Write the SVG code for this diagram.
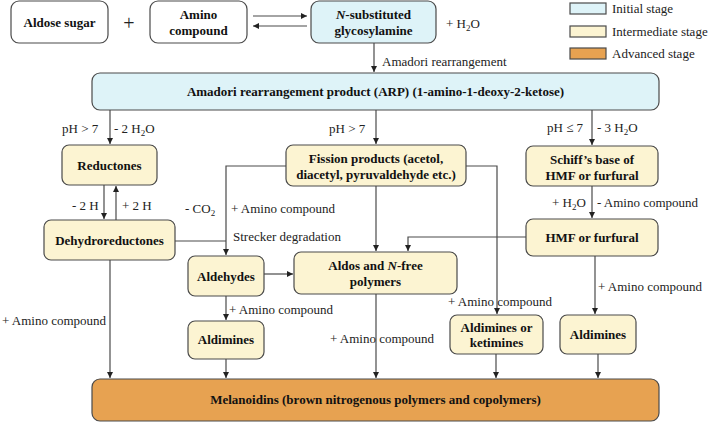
<svg xmlns="http://www.w3.org/2000/svg" width="709" height="422" viewBox="0 0 709 422">
<style>
.box{stroke:#4a4a4a;stroke-width:1.2}
.w{fill:#ffffff}
.b{fill:#def3f8}
.y{fill:#fcf4d2}
.o{fill:#e7a251}
.t{font-family:"Liberation Serif","Times New Roman",serif;font-size:13px;font-weight:bold;fill:#111;text-anchor:middle}
.l{font-family:"Liberation Serif","Times New Roman",serif;font-size:13px;fill:#222}
.c{stroke:#4a4a4a;stroke-width:1.2;fill:none}
</style>
<defs>
<marker id="ah" markerWidth="8" markerHeight="8" refX="6" refY="3" orient="auto" markerUnits="userSpaceOnUse">
<path d="M0,0 L6,3 L0,6 Z" fill="#222"/>
</marker>
</defs>

<g id="legend">
<rect x="570" y="3" width="36" height="11" class="box b"/>
<text x="612" y="13" class="l">Initial stage</text>
<rect x="570" y="26" width="36" height="11" class="box y"/>
<text x="612" y="36" class="l">Intermediate stage</text>
<rect x="570" y="48" width="36" height="11" class="box o"/>
<text x="612" y="58" class="l">Advanced stage</text>
</g>

<g id="aldose">
<rect x="11" y="1" width="97" height="42" rx="8" class="box w"/>
<text x="59.5" y="27" class="t">Aldose sugar</text>
</g>
<text x="129" y="30" class="l" style="font-size:20px" text-anchor="middle">+</text>
<g id="amino">
<rect x="150" y="1" width="97" height="42" rx="8" class="box w"/>
<text x="198.5" y="19" class="t">Amino</text>
<text x="198.5" y="35" class="t">compound</text>
</g>
<g id="glycosylamine">
<rect x="311" y="1" width="125" height="42" rx="8" class="box b"/>
<text x="373.5" y="19" class="t"><tspan font-style="italic">N</tspan>-substituted</text>
<text x="373.5" y="35" class="t">glycosylamine</text>
</g>
<g id="arp">
<rect x="92" y="73" width="567" height="37" rx="8" class="box b"/>
<text x="375.5" y="96" class="t">Amadori rearrangement product (ARP) (1-amino-1-deoxy-2-ketose)</text>
</g>
<g id="reductones">
<rect x="62" y="145" width="95" height="40" rx="7" class="box y"/>
<text x="109.5" y="170" class="t">Reductones</text>
</g>
<g id="dehydroreductones">
<rect x="44" y="220" width="131" height="40" rx="7" class="box y"/>
<text x="109.5" y="245" class="t">Dehydroreductones</text>
</g>
<g id="fission">
<rect x="286" y="145" width="180" height="41" rx="7" class="box y"/>
<text x="376" y="163" class="t">Fission products (acetol,</text>
<text x="376" y="179" class="t">diacetyl, pyruvaldehyde etc.)</text>
</g>
<g id="schiff">
<rect x="526" y="146" width="132" height="40" rx="7" class="box y"/>
<text x="592" y="164" class="t">Schiff’s base of</text>
<text x="592" y="180" class="t">HMF or furfural</text>
</g>
<g id="hmf">
<rect x="526" y="219" width="132" height="37" rx="7" class="box y"/>
<text x="592" y="242" class="t">HMF or furfural</text>
</g>
<g id="aldehydes">
<rect x="188" y="256" width="76" height="40" rx="7" class="box y"/>
<text x="226" y="281" class="t">Aldehydes</text>
</g>
<g id="aldos">
<rect x="294" y="252" width="163" height="42" rx="7" class="box y"/>
<text x="375.5" y="270" class="t">Aldos and <tspan font-style="italic">N</tspan>-free</text>
<text x="375.5" y="286" class="t">polymers</text>
</g>
<g id="aldimines1">
<rect x="188" y="321" width="76" height="38" rx="7" class="box y"/>
<text x="226" y="344" class="t">Aldimines</text>
</g>
<g id="ketimines">
<rect x="450" y="315" width="93" height="39" rx="7" class="box y"/>
<text x="496.5" y="332" class="t">Aldimines or</text>
<text x="496.5" y="347" class="t">ketimines</text>
</g>
<g id="aldimines2">
<rect x="560" y="315" width="76" height="39" rx="7" class="box y"/>
<text x="598" y="339" class="t">Aldimines</text>
</g>
<g id="melanoidins">
<rect x="92" y="379" width="567" height="42" rx="8" class="box o"/>
<text x="375.5" y="404" class="t">Melanoidins (brown nitrogenous polymers and copolymers)</text>
</g>

<g id="connectors">
<line x1="253" y1="16" x2="307" y2="16" class="c" marker-end="url(#ah)"/>
<line x1="307" y1="26" x2="253" y2="26" class="c" marker-end="url(#ah)"/>
<line x1="374" y1="43" x2="374" y2="72" class="c" marker-end="url(#ah)"/>
<line x1="110" y1="110" x2="110" y2="144" class="c" marker-end="url(#ah)"/>
<line x1="376" y1="110" x2="376" y2="144" class="c" marker-end="url(#ah)"/>
<line x1="592" y1="110" x2="592" y2="145" class="c" marker-end="url(#ah)"/>
<line x1="104" y1="185" x2="104" y2="219" class="c" marker-end="url(#ah)"/>
<line x1="116" y1="220" x2="116" y2="186" class="c" marker-end="url(#ah)"/>
<polyline points="286,166 226,166 226,255" class="c" marker-end="url(#ah)"/>
<line x1="175" y1="241" x2="226" y2="241" class="c"/>
<line x1="376" y1="186" x2="376" y2="251" class="c" marker-end="url(#ah)"/>
<polyline points="466,166 497,166 497,314" class="c" marker-end="url(#ah)"/>
<line x1="592" y1="186" x2="592" y2="218" class="c" marker-end="url(#ah)"/>
<polyline points="526,237 408,237 408,251" class="c" marker-end="url(#ah)"/>
<line x1="595" y1="256" x2="595" y2="314" class="c" marker-end="url(#ah)"/>
<line x1="264" y1="274" x2="293" y2="274" class="c" marker-end="url(#ah)"/>
<line x1="226" y1="296" x2="226" y2="320" class="c" marker-end="url(#ah)"/>
<line x1="110" y1="260" x2="110" y2="378" class="c" marker-end="url(#ah)"/>
<line x1="226" y1="359" x2="226" y2="378" class="c" marker-end="url(#ah)"/>
<line x1="376" y1="294" x2="376" y2="378" class="c" marker-end="url(#ah)"/>
<line x1="496" y1="354" x2="496" y2="378" class="c" marker-end="url(#ah)"/>
<line x1="598" y1="354" x2="598" y2="378" class="c" marker-end="url(#ah)"/>
</g>

<g id="labels">
<text x="446" y="28" class="l">+ H<tspan font-size="9" dy="3">2</tspan><tspan dy="-3">O</tspan></text>
<text x="382" y="66" class="l">Amadori rearrangement</text>
<text x="62" y="133" class="l">pH &gt; 7</text>
<text x="114" y="133" class="l">- 2 H<tspan font-size="9" dy="3">2</tspan><tspan dy="-3">O</tspan></text>
<text x="329" y="133" class="l">pH &gt; 7</text>
<text x="547" y="132" class="l">pH ≤ 7</text>
<text x="597" y="132" class="l">- 3 H<tspan font-size="9" dy="3">2</tspan><tspan dy="-3">O</tspan></text>
<text x="72" y="210" class="l">- 2 H</text>
<text x="122" y="210" class="l">+ 2 H</text>
<text x="185" y="213" class="l">-  CO<tspan font-size="9" dy="3">2</tspan></text>
<text x="231" y="213" class="l">+ Amino compound</text>
<text x="233" y="241" class="l">Strecker degradation</text>
<text x="552" y="207" class="l">+ H<tspan font-size="9" dy="3">2</tspan><tspan dy="-3">O</tspan></text>
<text x="597" y="207" class="l">- Amino compound</text>
<text x="598" y="291" class="l">+ Amino compound</text>
<text x="448" y="306" class="l">+ Amino compound</text>
<text x="229" y="314" class="l">+ Amino compound</text>
<text x="2" y="325" class="l">+ Amino compound</text>
<text x="330" y="343" class="l">+ Amino compound</text>
</g>
</svg>
